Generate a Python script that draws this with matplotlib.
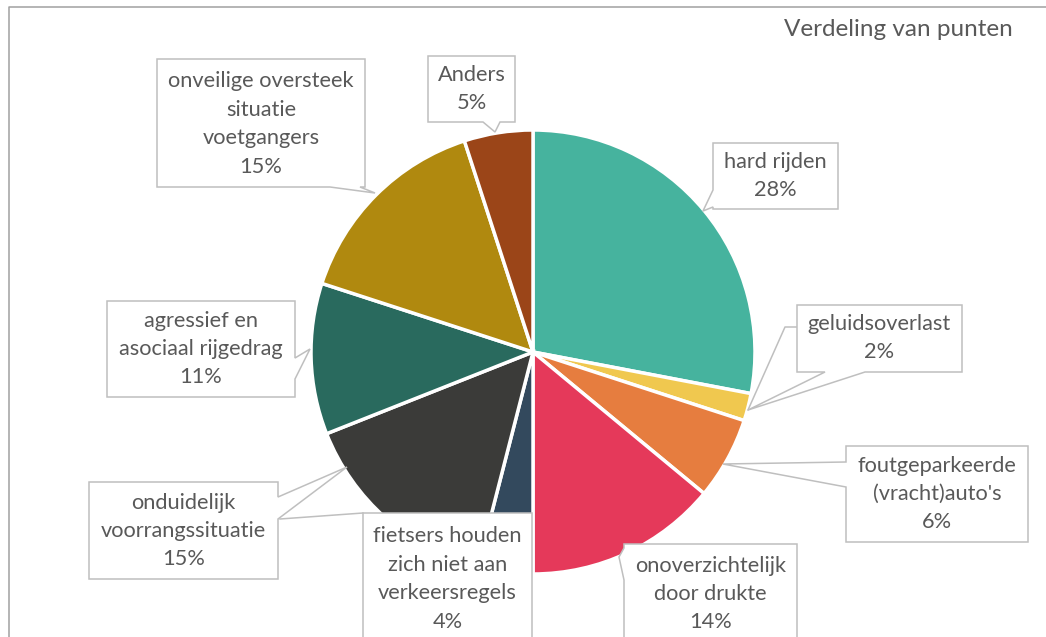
import matplotlib.pyplot as plt
from matplotlib.patches import Polygon

H = 637

labels = ['hard rijden', 'geluidsoverlast', "foutgeparkeerde\n(vracht)auto's",
          'onoverzichtelijk\ndoor drukte', 'fietsers houden\nzich niet aan\nverkeersregels',
          'onduidelijk\nvoorrangssituatie', 'agressief en\nasociaal rijgedrag',
          'onveilige oversteek\nsituatie\nvoetgangers', 'Anders']
pcts = [28, 2, 6, 14, 4, 15, 11, 15, 5]
colors = ['#46B39E', '#F0C84F', '#E67D3F', '#E5395A', '#33495D',
          '#3B3B39', '#296A5E', '#B0890F', '#9B4518']

# callout boxes in pixel coords (y down): box, pointer side, base range, tip, text centre y
callouts = [
    ((713, 143, 838, 209), 'left', (190, 207), (703, 211), 176),
    ((797, 305, 962, 372), 'bottom', (825, 865), (748, 410), 338),
    ((846, 446, 1028, 542), 'left', (462, 487), (723, 464), 494),
    ((624, 544, 797, 700), 'left', (548, 580), (619, 557), 594),
    ((363, 513, 532, 700), None, None, None, 579),
    ((89, 482, 278, 579), 'right', (497, 519), (347, 467), 531),
    ((107, 301, 295, 397), 'right', (358, 379), (310, 349), 349),
    ((157, 59, 365, 187), 'bottom', (330, 360), (375, 193), 124),
    ((428, 56, 515, 122), 'bottom', (483, 500), (495, 132), 89),
]
extra_lines = [[(748, 410), (785, 327), (797, 327)],
               [(280, 519), (363, 513)]]

TXT = '#595959'
EDGE = '#BFBFBF'
plt.rcParams['font.family'] = ['Lato', 'DejaVu Sans']


def P(x, y):
    return (x, H - y)


def callout_poly(box, side, ab, tip):
    x0, y0, x1, y1 = box
    pts = [(x0, y0)]
    if side == 'top':
        pts += [(ab[0], y0), tip, (ab[1], y0)]
    pts.append((x1, y0))
    if side == 'right':
        pts += [(x1, ab[0]), tip, (x1, ab[1])]
    pts.append((x1, y1))
    if side == 'bottom':
        pts += [(ab[1], y1), tip, (ab[0], y1)]
    pts.append((x0, y1))
    if side == 'left':
        pts += [(x0, ab[1]), tip, (x0, ab[0])]
    return [P(*p) for p in pts]


fig = plt.figure(figsize=(10.46, 6.37), dpi=100)
ax = fig.add_axes([0, 0, 1, 1])
ax.pie(pcts, colors=colors, startangle=90, counterclock=False,
       center=P(533, 352), radius=222,
       wedgeprops=dict(edgecolor='white', linewidth=2.5))
ax.set_xlim(0, 1046)
ax.set_ylim(0, H)
ax.set_aspect('auto')
ax.axis('off')

# chart frame
ax.plot([8.5, 8.5, 1046], [0, H - 7, H - 7], color='#A0A0A0', lw=1.1)

for line in extra_lines:
    xs, ys = zip(*[P(*p) for p in line])
    ax.plot(xs, ys, color=EDGE, lw=1.1, zorder=4)

for (box, side, ab, tip, cy), lab, pct in zip(callouts, labels, pcts):
    ax.add_patch(Polygon(callout_poly(box, side, ab, tip), closed=True,
                         facecolor='white', edgecolor=EDGE, lw=1.1, zorder=5))
    cx = (box[0] + box[2]) / 2
    ax.text(*P(cx, cy), f'{lab}\n{pct}%', ha='center', va='center',
            fontsize=15.7, color=TXT, linespacing=1.53, zorder=6)

ax.text(*P(1013, 30), 'Verdeling van punten', ha='right', va='center',
        fontsize=17.5, color=TXT)

fig.savefig('out.png', dpi=100)
